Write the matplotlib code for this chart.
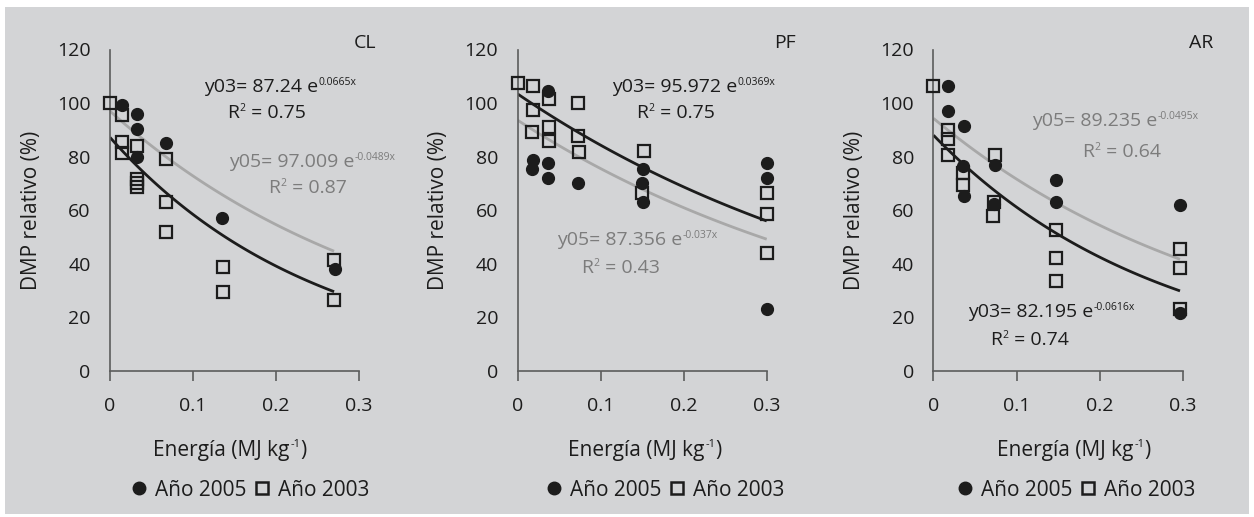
import numpy as np
import matplotlib.pyplot as plt
from matplotlib.lines import Line2D
from matplotlib.patches import Rectangle

plt.rcParams['font.family'] = ['Open Sans', 'DejaVu Sans']

# --- data ----------------------------------------------------------------
panels = ['CL', 'PF', 'AR']

# CL
cl_x03 = [0, 0.015, 0.015, 0.015, 0.033, 0.033, 0.033, 0.033, 0.067, 0.067, 0.067, 0.136, 0.136, 0.27, 0.27]
cl_y03 = [100, 95.5, 85.5, 81.5, 84, 71.5, 70, 68.5, 79, 63, 52, 39, 29.5, 41.5, 26.5]
cl_x05 = [0.015, 0.033, 0.033, 0.033, 0.068, 0.135, 0.271]
cl_y05 = [99.3, 95.8, 90.5, 80, 85, 57.2, 38.2]

# PF
pf_x03 = [0, 0.0185, 0.0185, 0.017, 0.038, 0.038, 0.038, 0.073, 0.073, 0.074, 0.152, 0.150, 0.3, 0.3, 0.3]
pf_y03 = [107.5, 106.5, 97.5, 89.3, 101.5, 91, 86, 100, 87.8, 81.8, 82, 66.6, 66.4, 58.5, 44.2]
pf_x05 = [0.036, 0.018, 0.017, 0.037, 0.036, 0.073, 0.151, 0.150, 0.151, 0.3, 0.3, 0.3]
pf_y05 = [104.5, 78.8, 75.3, 77.8, 71.9, 70, 75.5, 70, 63, 77.8, 71.9, 23.3]

# AR
ar_x03 = [0, 0.017, 0.017, 0.017, 0.035, 0.035, 0.074, 0.073, 0.072, 0.148, 0.148, 0.148, 0.297, 0.297, 0.297]
ar_y03 = [106.5, 90, 86.5, 80.5, 74, 69.5, 80.5, 63, 58, 52.5, 42, 33.5, 45.5, 38.5, 23.3]
ar_x05 = [0.018, 0.017, 0.037, 0.036, 0.037, 0.074, 0.073, 0.148, 0.148, 0.297, 0.297]
ar_y05 = [106.5, 97, 91.3, 76.6, 65.4, 76.8, 62.3, 71.4, 62.9, 61.9, 21.5]

# trend lines: value at x=0, value at end, end x
cl_fit03 = [87.2, 29.6, 0.27]
cl_fit05 = [97.0, 44.7, 0.27]
pf_fit03 = [103.4, 56.0, 0.3]
pf_fit05 = [93.6, 49.2, 0.3]
ar_fit03 = [88.0, 29.9, 0.297]
ar_fit05 = [94.3, 41.7, 0.297]

# equation labels: (main, superscript) and R2 value
cl_eq03 = [('y03= 87.24 e', '0.0665x'), '0.75']
cl_eq05 = [('y05= 97.009 e', '-0.0489x'), '0.87']
pf_eq03 = [('y03= 95.972 e', '0.0369x'), '0.75']
pf_eq05 = [('y05= 87.356 e', '-0.037x'), '0.43']
ar_eq03 = [('y03= 82.195 e', '-0.0616x'), '0.74']
ar_eq05 = [('y05= 89.235 e', '-0.0495x'), '0.64']

xticks = [0, 0.1, 0.2, 0.3]
xticklabels = ['0', '0.1', '0.2', '0.3']
yticks = [0, 20, 40, 60, 80, 100, 120]

BG = '#d3d4d6'
DARK = '#1c1c1c'
GREY_LINE = '#a8a8a8'
GREY_TXT = '#7c7c7c'
AXC = '#5c5c5c'

W, H = 1254, 517
fig = plt.figure(figsize=(W / 100, H / 100), dpi=100, facecolor='white')
fig.patches.append(Rectangle((5 / W, 3 / H), (W - 10) / W, (H - 10) / H,
                             transform=fig.transFigure, facecolor=BG,
                             edgecolor='none', zorder=-10))

lefts = [110, 517.7, 933.5]
ax_w = 249 / W
ax_b = 1 - 371 / H
ax_h = (371 - 49.5) / H


def trend(ax, fit, color, lw):
    y0, y1, x1 = fit
    xs = np.linspace(0, x1, 120)
    ax.plot(xs, y0 * (y1 / y0) ** (xs / x1), color=color, lw=lw, zorder=2,
            solid_capstyle='butt')


def rich(ax, x, y, parts, color, fs=14, sfs=7.5):
    # parts: list of (text, is_superscript); first is normal text
    t0 = ax.text(x, y, parts[0][0], color=color, fontsize=fs, ha='left',
                 va='center')
    prev = t0
    for txt, sup in parts[1:]:
        if sup:
            prev = ax.annotate(txt, xy=(1, 1), xycoords=prev, xytext=(0.5, 0.5),
                               textcoords='offset points', ha='left', va='top',
                               fontsize=sfs, color=color)
        else:
            prev = ax.annotate(txt, xy=(1, 0.5), xycoords=(prev, t0),
                               ha='left', va='center', fontsize=fs, color=color)
    return t0


def px2data(px, py, left):
    return ((px - left) / 249 * 0.3, (371 - py) / 2.679)


data = [
    (cl_x03, cl_y03, cl_x05, cl_y05, cl_fit03, cl_fit05, cl_eq03, cl_eq05,
     [(204, 87), (227, 113)], [(229, 162), (268, 188)]),
    (pf_x03, pf_y03, pf_x05, pf_y05, pf_fit03, pf_fit05, pf_eq03, pf_eq05,
     [(612, 87), (636, 113)], [(557, 240), (581, 268)]),
    (ar_x03, ar_y03, ar_x05, ar_y05, ar_fit03, ar_fit05, ar_eq03, ar_eq05,
     [(968, 312), (990, 340)], [(1032, 121), (1082, 152)]),
]

for i, name in enumerate(panels):
    x03, y03, x05, y05, f03, f05, e03, e05, p03, p05 = data[i]
    left = lefts[i]
    ax = fig.add_axes([left / W, ax_b, ax_w, ax_h])
    ax.set_facecolor('none')

    trend(ax, f05, GREY_LINE, 2.0)
    trend(ax, f03, DARK, 2.0)
    ax.plot(x05, y05, 'o', color=DARK, markersize=8.5, zorder=3, clip_on=False)
    ax.plot(x03, y03, 's', mfc='none', mec=DARK, mew=1.6, markersize=8.5,
            zorder=4, clip_on=False)

    ax.set_xlim(0, 0.3)
    ax.set_ylim(0, 120)
    ax.set_xticks(xticks)
    ax.set_xticklabels(xticklabels)
    ax.set_yticks(yticks)
    for s in ['top', 'right']:
        ax.spines[s].set_visible(False)
    for s in ['left', 'bottom']:
        ax.spines[s].set_color(AXC)
        ax.spines[s].set_linewidth(1.2)
    ax.tick_params(axis='x', direction='out', length=7, width=1.2, color=AXC,
                   labelsize=14, pad=12, labelcolor=DARK)
    ax.tick_params(axis='y', length=0, labelsize=14, pad=14, labelcolor=DARK)

    ax.set_ylabel('DMP relativo (%)', fontsize=15, color=DARK, labelpad=11)

    # x label with small superscript
    xl = [153, 568, 997][i]
    lx, ly = px2data(xl, 450, left)
    rich(ax, lx, ly, [('Energía (MJ kg', False), ('-1', True), (')', False)],
         DARK, fs=15, sfs=8)

    tx, ty = px2data([365, 785, 1201][i], 43, left)
    ax.text(tx, ty, name, fontsize=14, color=DARK, ha='center', va='center',
            clip_on=False)

    for eqn, pos, col in [(e03, p03, DARK), (e05, p05, GREY_TXT)]:
        (main, sup), r2 = eqn
        x1, y1 = px2data(pos[0][0], pos[0][1], left)
        x2, y2 = px2data(pos[1][0], pos[1][1], left)
        rich(ax, x1, y1, [(main, False), (sup, True)], col)
        rich(ax, x2, y2, [('R', False), ('2', True), (' = ' + r2, False)], col)

    handles = [Line2D([], [], ls='none', marker='o', color=DARK, markersize=9),
               Line2D([], [], ls='none', marker='s', mfc='none', mec=DARK,
                      mew=1.8, markersize=9)]
    lcx = [250, 665, 1076][i]
    ax.legend(handles, ['Año 2005', 'Año 2003'], ncol=2, frameon=False,
              loc='center', bbox_to_anchor=((lcx - left) / 249, (371 - 490) / 321.5),
              fontsize=15, handlelength=0.8, handletextpad=0.4,
              columnspacing=0.3, labelcolor=DARK)

fig.savefig('out.png', dpi=100, facecolor='white')
